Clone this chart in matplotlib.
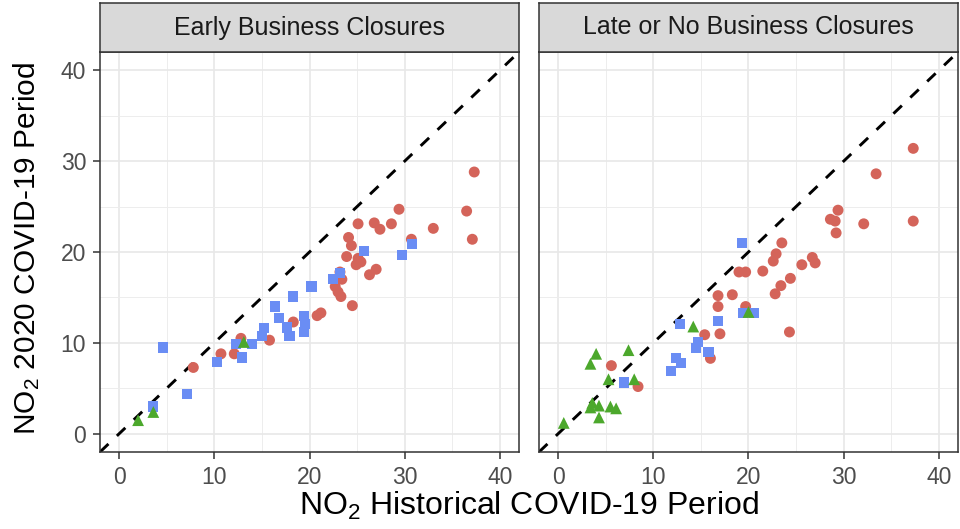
import matplotlib
matplotlib.use("Agg")
import matplotlib.pyplot as plt
import numpy as np

plt.rcParams['font.family'] = ['Liberation Sans', 'DejaVu Sans']
plt.rcParams['mathtext.fontset'] = 'custom'
plt.rcParams['mathtext.rm'] = 'Liberation Sans'
plt.rcParams['mathtext.it'] = 'Liberation Sans:italic'

panels = ["Early Business Closures", "Late or No Business Closures"]

# Early panel
early_red_x = [7.8, 10.7, 12.1, 12.8, 15.8, 18.3, 20.8, 21.2, 22.7, 23.0, 23.3, 24.5, 23.2, 23.4,
               24.1, 24.4, 23.9, 25.1, 25.4, 24.9, 27.0, 26.3, 25.1, 26.8, 27.4, 28.6, 29.4, 30.7,
               33.0, 36.5, 37.1, 37.3]
early_red_y = [7.3, 8.8, 8.8, 10.5, 10.3, 12.3, 13.0, 13.3, 16.2, 15.6, 15.1, 14.1, 17.8, 17.0,
               21.6, 20.7, 19.5, 19.3, 18.9, 18.6, 18.1, 17.5, 23.1, 23.2, 22.5, 23.1, 24.7, 21.4,
               22.6, 24.5, 21.4, 28.8]
early_blue_x = [4.6, 7.1, 3.6, 10.3, 12.9, 12.3, 14.0, 15.0, 15.2, 16.4, 16.8, 17.6, 17.9, 18.3,
                19.4, 19.5, 19.4, 20.2, 22.5, 23.2, 25.7, 29.7, 30.8]
early_blue_y = [9.5, 4.4, 3.0, 7.9, 8.4, 9.9, 9.9, 10.8, 11.6, 14.0, 12.7, 11.7, 10.8, 15.1,
                13.0, 12.1, 11.2, 16.2, 17.0, 17.7, 20.1, 19.7, 20.9]
early_green_x = [2.0, 3.6, 13.1]
early_green_y = [1.5, 2.4, 10.1]

# Late or no panel
late_red_x = [37.3, 33.4, 37.3, 32.1, 29.4, 28.6, 29.1, 29.2, 23.5, 22.9, 22.6, 21.5, 19.0, 19.7,
              25.6, 26.7, 27.0, 24.4, 23.4, 22.8, 16.8, 18.3, 16.8, 19.7, 24.3, 15.4, 17.0, 16.0,
              5.6, 8.4]
late_red_y = [31.4, 28.6, 23.4, 23.1, 24.6, 23.6, 23.4, 22.1, 21.0, 19.8, 19.0, 17.9, 17.8, 17.8,
              18.6, 19.4, 18.8, 17.1, 16.3, 15.4, 15.2, 15.3, 14.0, 14.0, 11.2, 10.9, 11.0, 8.3,
              7.5, 5.2]
late_blue_x = [19.3, 12.8, 16.8, 19.4, 20.6, 14.7, 14.5, 15.8, 12.4, 12.95, 11.9, 6.9]
late_blue_y = [21.0, 12.1, 12.4, 13.3, 13.3, 10.1, 9.4, 9.0, 8.3, 7.8, 6.9, 5.65]
late_green_x = [0.6, 4.0, 3.4, 7.4, 5.3, 8.0, 14.2, 20.0, 3.6, 4.3, 5.5, 6.1, 4.3, 3.4]
late_green_y = [1.2, 8.8, 7.7, 9.2, 6.0, 6.0, 11.8, 13.4, 3.4, 3.1, 3.0, 2.8, 1.8, 2.9]

ticks = [0, 10, 20, 30, 40]
minor_ticks = [5, 15, 25, 35]

RED = "#D4645A"
BLUE = "#6A8DF4"
GREEN = "#4CA82C"

fig = plt.figure(figsize=(9.6, 5.29), dpi=100)
W, H = 960, 529

def fx(px):
    return px / W

def fy(py):
    return 1 - py / H

panel_lefts = [100, 539]
panel_w = 419
top, bottom = 52, 452
strip_top = 3

data = [
    (early_red_x, early_red_y, early_blue_x, early_blue_y, early_green_x, early_green_y),
    (late_red_x, late_red_y, late_blue_x, late_blue_y, late_green_x, late_green_y),
]

for i, (left, title) in enumerate(zip(panel_lefts, panels)):
    ax = fig.add_axes([fx(left), fy(bottom), panel_w / W, (bottom - top) / H])
    rx, ry, bx, by, gx, gy = data[i]
    ax.set_xlim(-2, 42)
    ax.set_ylim(-2, 42)
    ax.set_xticks(ticks)
    ax.set_yticks(ticks)
    ax.set_xticks(minor_ticks, minor=True)
    ax.set_yticks(minor_ticks, minor=True)
    ax.grid(which='major', color='#E8E8E8', linewidth=1.2, zorder=0)
    ax.grid(which='minor', color='#EDEDED', linewidth=0.7, zorder=0)
    ax.tick_params(which='minor', length=0)
    ax.tick_params(which='major', length=5, width=1.1, color='#333333',
                   labelsize=16.5, labelcolor='#4D4D4D', pad=5)
    if i == 1:
        ax.tick_params(axis='y', labelleft=False, length=0)
    ax.set_axisbelow(True)
    for s in ax.spines.values():
        s.set_color('#333333')
        s.set_linewidth(1.1)
    ax.axline((0, 0), slope=1, color='black', linestyle=(0, (4, 4)), linewidth=2.1, zorder=2)
    ax.scatter(rx, ry, s=62, marker='o', color=RED, edgecolors='none', zorder=3)
    ax.scatter(bx, by, s=54, marker='s', color=BLUE, edgecolors='none', zorder=3)
    ax.scatter(gx, gy, s=72, marker='^', color=GREEN, edgecolors='none', zorder=3)

    sax = fig.add_axes([fx(left), fy(top), panel_w / W, (top - strip_top) / H])
    sax.set_facecolor('#D9D9D9')
    sax.set_xticks([])
    sax.set_yticks([])
    for s in sax.spines.values():
        s.set_color('#333333')
        s.set_linewidth(1.1)
    sax.text(0.5, 0.5, title, ha='center', va='center', fontsize=18, color='#1A1A1A',
             transform=sax.transAxes)

fig.text(fx(529), fy(506), "NO$_2$ Historical COVID-19 Period", ha='center', va='center',
         fontsize=23, color='black')
fig.text(fx(27), fy(248), "NO$_2$ 2020 COVID-19 Period", ha='center', va='center',
         fontsize=21.5, color='black', rotation=90)

fig.savefig("out.png", dpi=100)
